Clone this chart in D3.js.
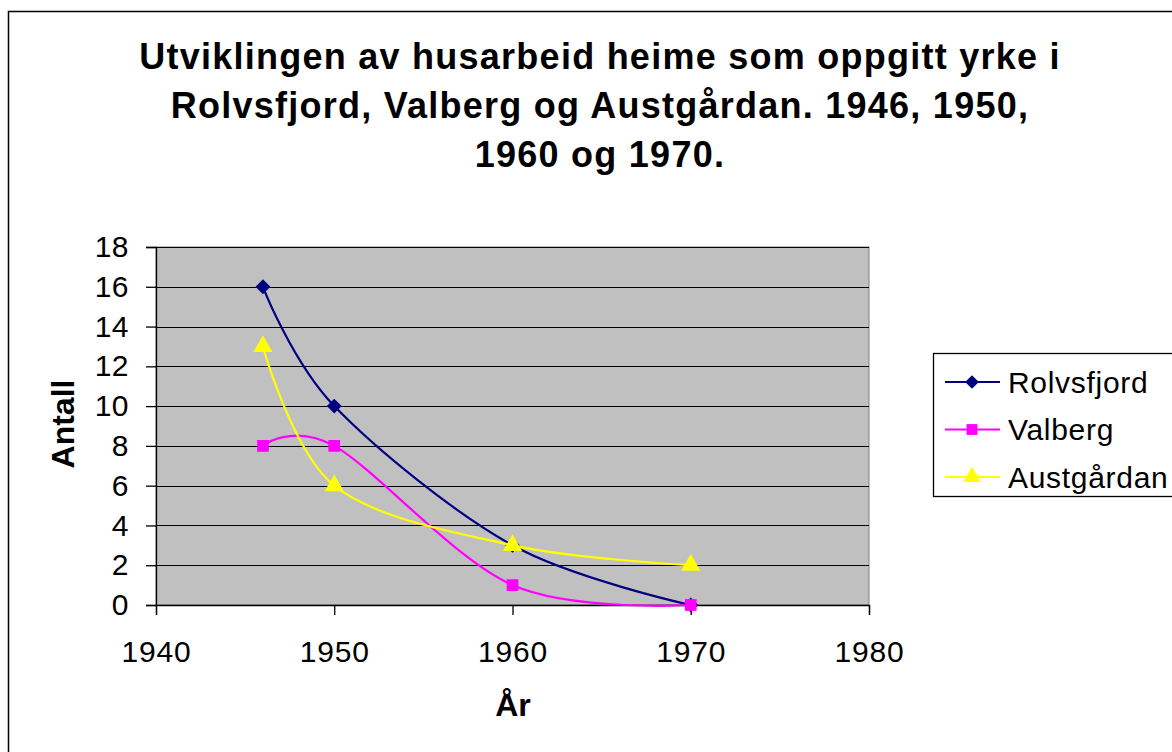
<!DOCTYPE html>
<html>
<head>
<meta charset="utf-8">
<script src="https://cdn.jsdelivr.net/npm/d3@7"></script>
<style>
    body { margin: 0; background: #fff; }
    svg { display: block; font-family: "Liberation Sans", Arial, sans-serif; }
</style>
</head>
<body>
<svg id="chart" width="1172" height="752"></svg>
<script>
const titleLines = [
    "Utviklingen av husarbeid heime som oppgitt yrke i",
    "Rolvsfjord, Valberg og Austgårdan. 1946, 1950,",
    "1960 og 1970."
];
const years = [1946, 1950, 1960, 1970];
const rolvsfjord = [16, 10, 3, 0];
const valberg = [8, 8, 1, 0];
const austgardan = [13, 6, 3, 2];
const seriesNames = ["Rolvsfjord", "Valberg", "Austgårdan"];
const xTicks = [1940, 1950, 1960, 1970, 1980];
const yTicks = [0, 2, 4, 6, 8, 10, 12, 14, 16, 18];
const xLabel = "År";
const yLabel = "Antall";

class ChartRenderer {
    constructor(id) {
        this.svg = d3.select(`#${id}`);
        this.plot = { left: 156, right: 869, top: 247, bottom: 605 };
        this.series = [
            { name: seriesNames[0], values: rolvsfjord, color: "#000080", marker: d3.symbolDiamond2, size: 140 },
            { name: seriesNames[1], values: valberg, color: "#FF00FF", marker: d3.symbolSquare2, size: 175 },
            { name: seriesNames[2], values: austgardan, color: "#FFFF00", marker: d3.symbolTriangle, size: 160 }
        ];
        this.initScales();
        this.redraw();
    }

    initScales() {
        this.xScale = d3.scaleLinear()
            .domain([xTicks[0], xTicks[xTicks.length - 1]])
            .range([this.plot.left, this.plot.right]);
        this.yScale = d3.scaleLinear()
            .domain([yTicks[0], yTicks[yTicks.length - 1]])
            .range([this.plot.bottom, this.plot.top]);
    }

    redraw() {
        this.svg.selectAll("*").remove();
        this.drawFrame();
        this.drawTitle();
        this.drawPlotArea();
        this.drawAxes();
        this.drawSeries();
        this.drawLegend();
    }

    drawFrame() {
        this.svg.append("rect")
            .attr("x", 8.5).attr("y", 11.5)
            .attr("width", 1200).attr("height", 800)
            .attr("fill", "#fff")
            .attr("stroke", "#000")
            .attr("stroke-width", 1.5);
    }

    drawTitle() {
        this.svg.append("text")
            .attr("text-anchor", "middle")
            .attr("font-weight", "bold")
            .attr("font-size", 36)
            .attr("letter-spacing", 1.25)
            .selectAll("tspan")
            .data(titleLines)
            .join("tspan")
            .attr("x", 600)
            .attr("y", (d, i) => 69 + i * 49)
            .text(d => d);
    }

    drawPlotArea() {
        const p = this.plot;
        this.svg.append("rect")
            .attr("x", p.left).attr("y", p.top)
            .attr("width", p.right - p.left).attr("height", p.bottom - p.top)
            .attr("fill", "#C0C0C0")
            .attr("stroke", "#808080");

        this.svg.append("g")
            .selectAll("line")
            .data(yTicks.slice(1))
            .join("line")
            .attr("x1", p.left).attr("x2", p.right)
            .attr("y1", d => Math.round(this.yScale(d)) + 0.5)
            .attr("y2", d => Math.round(this.yScale(d)) + 0.5)
            .attr("stroke", "#000")
            .attr("stroke-width", 1);
    }

    drawAxes() {
        const yAxis = d3.axisLeft(this.yScale)
            .tickValues(yTicks)
            .tickSize(10)
            .tickPadding(17);
        const xAxis = d3.axisBottom(this.xScale)
            .tickValues(xTicks)
            .tickFormat(d3.format("d"))
            .tickSize(10)
            .tickPadding(26);

        this.svg.append("g")
            .attr("transform", `translate(${this.plot.left}, 0)`)
            .call(yAxis)
            .call(g => g.selectAll("line, path").attr("stroke", "#000").attr("stroke-width", 1.3))
            .call(g => g.selectAll(".tick text")
                .attr("fill", "#000")
                .attr("font-size", 30)
                .attr("letter-spacing", 0.5)
                .attr("font-family", "'Liberation Sans', Arial, sans-serif"));

        this.svg.append("g")
            .attr("transform", `translate(0, ${this.plot.bottom})`)
            .call(xAxis)
            .call(g => g.selectAll("line, path").attr("stroke", "#000").attr("stroke-width", 1.3))
            .call(g => g.selectAll(".tick text")
                .attr("fill", "#000")
                .attr("font-size", 30)
                .attr("letter-spacing", 0.8)
                .attr("font-family", "'Liberation Sans', Arial, sans-serif"));

        this.svg.append("text")
            .attr("x", 513).attr("y", 716)
            .attr("text-anchor", "middle")
            .attr("font-weight", "bold")
            .attr("font-size", 32)
            .text(xLabel);

        this.svg.append("text")
            .attr("transform", "translate(74, 424) rotate(-90)")
            .attr("text-anchor", "middle")
            .attr("font-weight", "bold")
            .attr("font-size", 32)
            .text(yLabel);
    }

    drawSeries() {
        const line = d3.line()
            .x(d => this.xScale(d[0]))
            .y(d => this.yScale(d[1]))
            .curve(d3.curveCatmullRom.alpha(0));

        this.series.forEach(s => {
            const pts = years.map((yr, i) => [yr, s.values[i]]);
            const g = this.svg.append("g");
            g.append("path")
                .attr("d", line(pts))
                .attr("fill", "none")
                .attr("stroke", s.color)
                .attr("stroke-width", 2.2);
            g.selectAll("path.marker")
                .data(pts)
                .join("path")
                .attr("class", "marker")
                .attr("d", d3.symbol(s.marker, s.size))
                .attr("transform", d => `translate(${this.xScale(d[0])}, ${this.yScale(d[1])})`)
                .attr("fill", s.color);
        });
    }

    drawLegend() {
        const lg = this.svg.append("g");
        lg.append("rect")
            .attr("x", 933.5).attr("y", 353.5)
            .attr("width", 260).attr("height", 143)
            .attr("fill", "#fff")
            .attr("stroke", "#000")
            .attr("stroke-width", 1.3);

        const rows = lg.selectAll("g.row")
            .data(this.series)
            .join("g")
            .attr("class", "row")
            .attr("transform", (d, i) => `translate(0, ${382 + i * 47.5})`);
        rows.append("line")
            .attr("x1", 945).attr("x2", 1000)
            .attr("stroke", d => d.color)
            .attr("stroke-width", 2.2);
        rows.append("path")
            .attr("d", d => d3.symbol(d.marker, d.size * 0.85)())
            .attr("transform", "translate(972, 0)")
            .attr("fill", d => d.color);
        rows.append("text")
            .attr("x", 1008)
            .attr("y", 10.5)
            .attr("font-size", 30)
            .attr("letter-spacing", 0.7)
            .text(d => d.name);
    }
}

let chart;
document.addEventListener("DOMContentLoaded", function () {
    chart = new ChartRenderer("chart");
});
</script>
</body>
</html>
